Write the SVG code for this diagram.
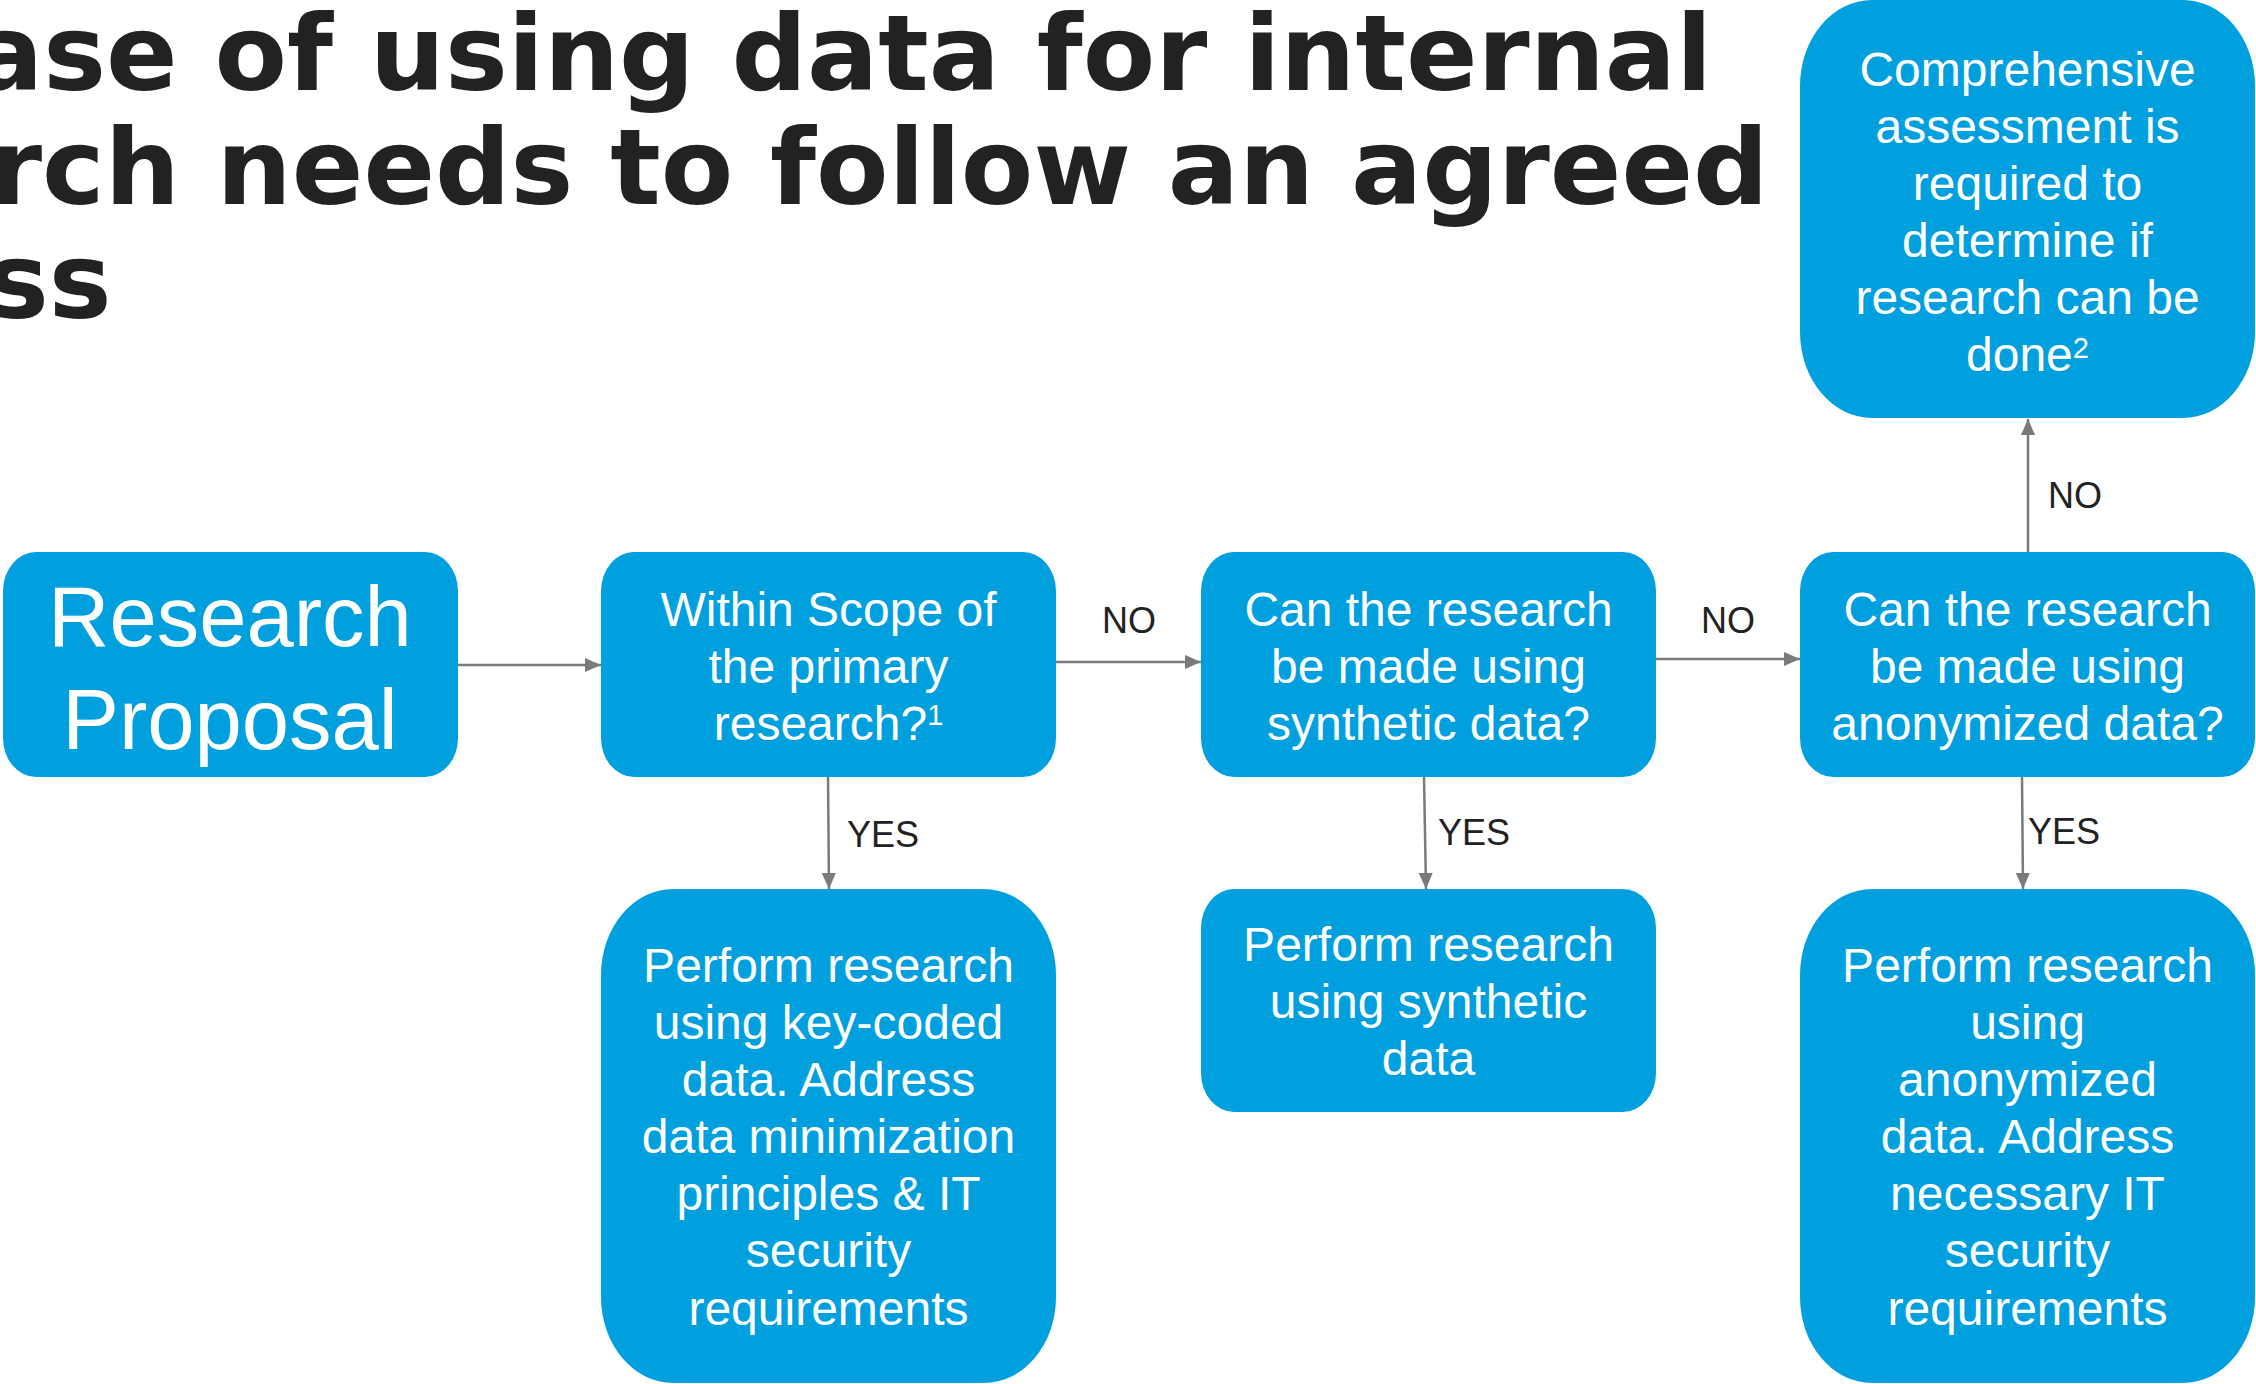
<svg xmlns="http://www.w3.org/2000/svg" width="2256" height="1384" viewBox="0 0 2256 1384">
  <style>
    .title { font-family: "DejaVu Sans", Verdana, sans-serif; font-weight: bold; font-size: 105.6px; fill: #222222; }
    .box { fill: #00A0DF; }
    .nt { font-family: "Liberation Sans", Arial, sans-serif; font-size: 48px; fill: #ffffff; text-anchor: middle; }
    .big { font-size: 85px; }
    .sup { font-size: 29px; }
    .conn { stroke: #7a7a7a; stroke-width: 2.5; fill: none; marker-end: url(#arrow); }
    .lbl { font-family: "Liberation Sans", Arial, sans-serif; font-size: 36px; fill: #222222; }
  </style>
  <defs>
    <marker id="arrow" markerUnits="userSpaceOnUse" markerWidth="16" markerHeight="14" refX="16" refY="7" orient="auto">
      <path d="M0,0 L16,7 L0,14 Z" fill="#7a7a7a"/>
    </marker>
  </defs>
  <rect width="2256" height="1384" fill="#ffffff"/>

  <g id="title">
    <text class="title" x="-28" y="90">ase of using data for internal</text>
    <text class="title" x="-10" y="204">rch needs to follow an agreed</text>
    <text class="title" x="-14" y="318">ss</text>
  </g>

  <g id="connectors">
    <line class="conn" x1="458" y1="665" x2="601" y2="665"/>
    <line class="conn" x1="1056" y1="662" x2="1201" y2="662"/>
    <line class="conn" x1="1656" y1="659" x2="1800" y2="659"/>
    <line class="conn" x1="2028" y1="552" x2="2028" y2="419"/>
    <line class="conn" x1="828" y1="777" x2="829" y2="889"/>
    <line class="conn" x1="1424" y1="777" x2="1426" y2="889"/>
    <line class="conn" x1="2022" y1="777" x2="2023" y2="889"/>
    <text class="lbl" x="1129" y="633" text-anchor="middle">NO</text>
    <text class="lbl" x="1728" y="633" text-anchor="middle">NO</text>
    <text class="lbl" x="2048" y="508">NO</text>
    <text class="lbl" x="847" y="847">YES</text>
    <text class="lbl" x="1438" y="845">YES</text>
    <text class="lbl" x="2028" y="844">YES</text>
  </g>

  <g id="research-proposal">
    <rect class="box" x="3" y="552" width="455" height="225" rx="33" ry="39"/>
    <text class="nt big" x="230" y="646">Research</text>
    <text class="nt big" x="230" y="749">Proposal</text>
  </g>

  <g id="within-scope">
    <rect class="box" x="601" y="552" width="455" height="225" rx="33" ry="39"/>
    <text class="nt" x="828.5" y="626">Within Scope of</text>
    <text class="nt" x="828.5" y="683">the primary</text>
    <text class="nt" x="828.5" y="740">research?<tspan class="sup" dy="-15">1</tspan></text>
  </g>

  <g id="synthetic-question">
    <rect class="box" x="1201" y="552" width="455" height="225" rx="33" ry="39"/>
    <text class="nt" x="1428.5" y="626">Can the research</text>
    <text class="nt" x="1428.5" y="683">be made using</text>
    <text class="nt" x="1428.5" y="740">synthetic data?</text>
  </g>

  <g id="anonymized-question">
    <rect class="box" x="1800" y="552" width="455" height="225" rx="33" ry="39"/>
    <text class="nt" x="2027.5" y="626">Can the research</text>
    <text class="nt" x="2027.5" y="683">be made using</text>
    <text class="nt" x="2027.5" y="740">anonymized data?</text>
  </g>

  <g id="comprehensive-assessment">
    <rect class="box" x="1800" y="0" width="455" height="418" rx="72" ry="86"/>
    <text class="nt" x="2027.5" y="86">Comprehensive</text>
    <text class="nt" x="2027.5" y="143">assessment is</text>
    <text class="nt" x="2027.5" y="200">required to</text>
    <text class="nt" x="2027.5" y="257">determine if</text>
    <text class="nt" x="2027.5" y="314">research can be</text>
    <text class="nt" x="2027.5" y="371">done<tspan class="sup" dy="-13">2</tspan></text>
  </g>

  <g id="key-coded-research">
    <rect class="box" x="601" y="889" width="455" height="494" rx="72" ry="86"/>
    <text class="nt" x="828.5" y="982">Perform research</text>
    <text class="nt" x="828.5" y="1039">using key-coded</text>
    <text class="nt" x="828.5" y="1096">data. Address</text>
    <text class="nt" x="828.5" y="1153">data minimization</text>
    <text class="nt" x="828.5" y="1210">principles &amp; IT</text>
    <text class="nt" x="828.5" y="1267">security</text>
    <text class="nt" x="828.5" y="1325">requirements</text>
  </g>

  <g id="synthetic-research">
    <rect class="box" x="1201" y="889" width="455" height="223" rx="33" ry="39"/>
    <text class="nt" x="1428.5" y="961">Perform research</text>
    <text class="nt" x="1428.5" y="1018">using synthetic</text>
    <text class="nt" x="1428.5" y="1075">data</text>
  </g>

  <g id="anonymized-research">
    <rect class="box" x="1800" y="889" width="455" height="494" rx="72" ry="86"/>
    <text class="nt" x="2027.5" y="982">Perform research</text>
    <text class="nt" x="2027.5" y="1039">using</text>
    <text class="nt" x="2027.5" y="1096">anonymized</text>
    <text class="nt" x="2027.5" y="1153">data. Address</text>
    <text class="nt" x="2027.5" y="1210">necessary IT</text>
    <text class="nt" x="2027.5" y="1267">security</text>
    <text class="nt" x="2027.5" y="1325">requirements</text>
  </g>
</svg>
